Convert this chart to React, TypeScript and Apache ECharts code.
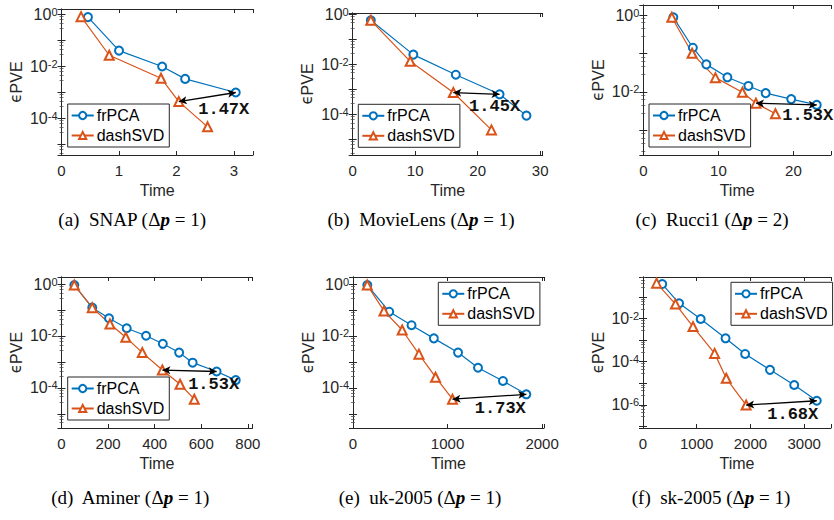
import React, { useEffect, useRef } from 'react';
import * as echarts from 'echarts';

const BLUE = '#0072BD';
const ORANGE = '#D95319';
const INK = '#262626';

// (a) SNAP
const snapFrX = [0.46, 1.0, 1.75, 2.15, 3.03];
const snapFrY = [0.76, 0.039, 0.0096, 0.0032, 0.00096];
const snapDashX = [0.34, 0.83, 1.73, 2.04, 2.54];
const snapDashY = [0.79, 0.026, 0.0034, 0.00043, 0.000046];
// (b) MovieLens
const movieFrX = [2.9, 9.7, 16.5, 23.5, 27.8];
const movieFrY = [0.56, 0.024, 0.0038, 0.00063, 0.000089];
const movieDashX = [2.9, 9.2, 16.1, 22.2];
const movieDashY = [0.56, 0.013, 0.00074, 0.000024];
// (c) Rucci1
const rucciFrX = [4.0, 6.6, 8.4, 11.2, 14.0, 16.3, 19.7, 23.1];
const rucciFrY = [0.87, 0.141, 0.052, 0.024, 0.0143, 0.0093, 0.0065, 0.0046];
const rucciDashX = [3.8, 6.5, 9.6, 13.2, 15.0, 17.6];
const rucciDashY = [0.87, 0.101, 0.0235, 0.0098, 0.0051, 0.0027];
// (d) Aminer
const aminerFrX = [55, 132, 204, 280, 363, 435, 505, 563, 666, 748];
const aminerFrY = [0.91, 0.123, 0.048, 0.0199, 0.0102, 0.005, 0.0023, 0.00094, 0.00043, 0.0002];
const aminerDashX = [55, 132, 208, 276, 347, 433, 509, 570];
const aminerDashY = [0.91, 0.123, 0.029, 0.0089, 0.0023, 0.00049, 0.000139, 0.000037];
// (e) uk-2005
const ukFrX = [151, 383, 619, 855, 1111, 1322, 1586, 1833];
const ukFrY = [0.91, 0.086, 0.026, 0.0081, 0.0023, 0.0006, 0.000186, 0.000057];
const ukDashX = [151, 327, 520, 697, 873, 1052];
const ukDashY = [0.91, 0.092, 0.017, 0.002, 0.00026, 0.000037];
// (f) sk-2005
const skFrX = [358, 672, 1074, 1537, 1901, 2364, 2815, 3235];
const skFrY = [0.41, 0.052, 0.0097, 0.00123, 0.00023, 0.000042, 0.0000083, 0.00000154];
const skDashX = [253, 605, 931, 1333, 1550, 1920];
const skDashY = [0.45, 0.048, 0.0043, 0.000245, 0.000017, 0.00000097];

const letters = ['a', 'b', 'c', 'd', 'e', 'f'];
const datasets = ['SNAP', 'MovieLens', 'Rucci1', 'Aminer', 'uk-2005', 'sk-2005'];
const deltaP = [1, 1, 2, 1, 1, 1];
const speedups = ['1.47X', '1.45X', '1.53X', '1.53X', '1.73X', '1.68X'];
const arrowDashIdx = [3, 2, 4, 5, 5, 5];
const arrowFrIdx = [4, 3, 7, 8, 7, 7];
const xTickStep = [1, 10, 10, 200, 1000, 1000];
const xMaxes = [3.33, 30.4, 25, 820, 2020, 3500];
const yLogMin = [-5.42, -5.62, -3.64, -5.54, -5.54, -7.08];
const yLogMax = [0.19, 0.04, 0.26, 0.27, 0.27, -0.06];

const frX = [snapFrX, movieFrX, rucciFrX, aminerFrX, ukFrX, skFrX];
const frY = [snapFrY, movieFrY, rucciFrY, aminerFrY, ukFrY, skFrY];
const dashX = [snapDashX, movieDashX, rucciDashX, aminerDashX, ukDashX, skDashX];
const dashY = [snapDashY, movieDashY, rucciDashY, aminerDashY, ukDashY, skDashY];

// layout (pixels)
const grids = [
  { left: 61.5, top: 5, width: 191.5, height: 150 },
  { left: 352.7, top: 5, width: 190, height: 150 },
  { left: 643.3, top: 5, width: 188.7, height: 150 },
  { left: 61.5, top: 277, width: 191, height: 151 },
  { left: 353, top: 277, width: 191, height: 151 },
  { left: 643, top: 277, width: 189, height: 151 },
];
const legendPos = [
  [67.7, 104], [358.3, 104.3], [649, 104], [67.7, 377], [438.3, 282.3], [731, 282.3],
];
const speedOffset = [
  [-12, 17], [-5, 12], [-9, 11], [-3, 13], [-26, 14], [-24, 14],
];
const captionPos = [
  [132, 219], [421, 219], [712, 219], [130, 497], [420, 497], [711, 497],
];

const SANS = '"Liberation Sans", Arial, Helvetica, sans-serif';

function yFmt(v: number) {
  const e = Math.log10(v);
  const r = Math.round(e);
  if (Math.abs(e - r) > 1e-6 || r % 2 !== 0) return '';
  return '{b|10}{s|' + (r === 0 ? '0' : String(r)) + '}';
}

function buildOption() {
  const xAxis: any[] = [];
  const yAxis: any[] = [];
  const series: any[] = [];
  const legend: any[] = [];
  const graphic: any[] = [];

  grids.forEach((g, i) => {
    const step = xTickStep[i];
    const xCommon = {
      type: 'value',
      gridIndex: i,
      min: 0,
      max: xMaxes[i],
      interval: step,
      splitLine: { show: false },
      axisLine: { show: true, lineStyle: { color: INK, width: 1 } },
      axisTick: { show: true, inside: true, length: 4, lineStyle: { color: INK } },
    };
    xAxis.push({
      ...xCommon,
      position: 'bottom',
      name: 'Time',
      nameLocation: 'middle',
      nameGap: 27,
      nameTextStyle: { fontFamily: SANS, fontSize: 16, color: INK },
      axisLabel: {
        show: true,
        margin: 8,
        fontFamily: SANS,
        fontSize: 15,
        color: INK,
        formatter: (v: number) => {
          const q = v / step;
          return Math.abs(q - Math.round(q)) < 1e-6 ? String(v) : '';
        },
      },
    });
    xAxis.push({ ...xCommon, position: 'top', axisLabel: { show: false } });

    const yCommon = {
      type: 'log',
      logBase: 10,
      gridIndex: i,
      min: Math.pow(10, yLogMin[i]),
      max: Math.pow(10, yLogMax[i]),
      splitLine: { show: false },
      minorSplitLine: { show: false },
      axisLine: { show: true, lineStyle: { color: INK, width: 1 } },
      axisTick: { show: true, inside: true, length: 4, lineStyle: { color: INK } },
      minorTick: { show: true, splitNumber: 5, length: 2, lineStyle: { color: '#555', width: 0.8 } },
    };
    yAxis.push({
      ...yCommon,
      position: 'left',
      name: '{e|ϵ}{s|PVE}',
      nameLocation: 'middle',
      nameRotate: 90,
      nameGap: 37,
      nameTextStyle: {
        color: INK,
        rich: {
          e: { fontFamily: '"DejaVu Sans", sans-serif', fontSize: 15, lineHeight: 15, verticalAlign: 'top', color: INK },
          s: { fontFamily: SANS, fontSize: 16, lineHeight: 16, padding: [6, 0, 0, 0], verticalAlign: 'bottom', color: INK },
        },
      },
      axisLabel: {
        show: true,
        interval: 0,
        margin: 4,
        formatter: yFmt,
        rich: {
          b: { fontFamily: SANS, fontSize: 16, lineHeight: 16, padding: [6, 0, 0, 0], verticalAlign: 'bottom', color: INK },
          s: { fontFamily: SANS, fontSize: 11, lineHeight: 11, verticalAlign: 'top', color: INK },
        },
      },
    });
    yAxis.push({ ...yCommon, position: 'right', axisLabel: { show: false } });

    const fr = frX[i].map((x, k) => [x, frY[i][k]]);
    const ds = dashX[i].map((x, k) => [x, dashY[i][k]]);
    const a = ds[arrowDashIdx[i]];
    const b = fr[arrowFrIdx[i]];

    series.push({
      type: 'line',
      name: 'frPCA',
      xAxisIndex: 2 * i,
      yAxisIndex: 2 * i,
      data: fr,
      symbol: 'emptyCircle',
      symbolSize: 8,
      lineStyle: { color: BLUE, width: 1.2 },
      itemStyle: { color: BLUE, borderWidth: 1.2 },
      z: 3,
      markPoint: {
        silent: true,
        symbol: 'circle',
        symbolSize: 0,
        data: [
          {
            coord: b,
            label: {
              show: true,
              position: 'inside',
              offset: speedOffset[i],
              formatter: speedups[i],
              fontFamily: '"Liberation Mono", "DejaVu Sans Mono", monospace',
              fontWeight: 'bold',
              fontSize: 17,
              color: '#111',
            },
          },
        ],
      },
    });
    series.push({
      type: 'line',
      name: 'dashSVD',
      xAxisIndex: 2 * i,
      yAxisIndex: 2 * i,
      data: ds,
      symbol: 'emptyTriangle',
      symbolSize: 9,
      lineStyle: { color: ORANGE, width: 1.2 },
      itemStyle: { color: ORANGE, borderWidth: 1.2 },
      z: 3,
      markLine: {
        silent: true,
        symbol: ['arrow', 'arrow'],
        symbolSize: [6, 8],
        label: { show: false },
        lineStyle: { color: '#000', width: 1.3, type: 'solid' },
        data: [[{ coord: a }, { coord: b }]],
      },
    });

    legend.push({
      left: legendPos[i][0],
      top: legendPos[i][1],
      orient: 'vertical',
      data: ['frPCA', 'dashSVD'],
      selectedMode: false,
      itemWidth: 22,
      itemHeight: 9,
      itemGap: 1,
      padding: [2, 5, 2, 3],
      borderColor: INK,
      borderWidth: 1,
      backgroundColor: '#fff',
      textStyle: { fontFamily: SANS, fontSize: 16, lineHeight: 19, color: '#000', padding: [0, 0, 0, -2] },
      z: 10,
    });

    graphic.push({
      type: 'text',
      x: captionPos[i][0],
      y: captionPos[i][1],
      style: {
        text: '(' + letters[i] + ')  ' + datasets[i] + ' ({n|Δ}{p|p} = ' + deltaP[i] + ')',
        fontFamily: '"Liberation Serif", "Times New Roman", serif',
        fontSize: 19,
        fill: '#000',
        align: 'center',
        verticalAlign: 'middle',
        rich: {
          n: { fontFamily: '"Liberation Serif", serif', fontSize: 19, fill: '#000' },
          p: { fontFamily: '"Liberation Serif", serif', fontSize: 19, fontStyle: 'italic', fontWeight: 'bold', fill: '#000' },
        },
      },
    });
  });

  return {
    animation: false,
    backgroundColor: '#fff',
    grid: grids.map((g) => ({ ...g, containLabel: false })),
    xAxis,
    yAxis,
    series,
    legend,
    graphic,
  };
}

export default function App() {
  const ref = useRef<HTMLDivElement>(null);
  useEffect(() => {
    if (!ref.current) return;
    const chart = echarts.init(ref.current, undefined, { renderer: 'svg' });
    chart.setOption(buildOption() as any);
    return () => chart.dispose();
  }, []);
  return (
    <div
      ref={ref}
      style={{ position: 'absolute', left: 0, top: 0, width: 834, height: 520, background: '#fff' }}
    />
  );
}
